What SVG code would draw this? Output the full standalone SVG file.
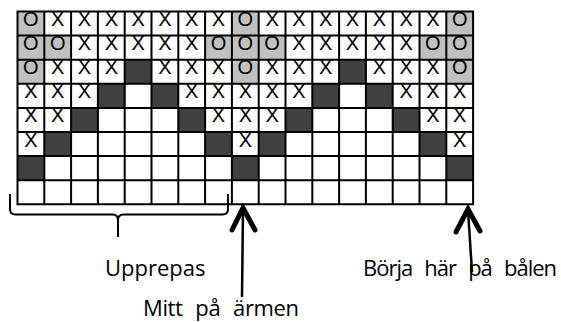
<svg xmlns="http://www.w3.org/2000/svg" width="561" height="322" viewBox="0 0 561 322">
<style>
.g{fill:#c0c0c0}
.d{fill:#404040}
.c{font-family:"Liberation Sans",Arial,sans-serif;font-size:20px;text-anchor:middle;fill:#000}
.lbl{font-family:"Open Sans","DejaVu Sans",sans-serif;font-size:22px;fill:#000}
.gl{fill:none;stroke:#000;stroke-width:2}
.stem{fill:none;stroke:#000;stroke-width:2.5}
.head{fill:none;stroke:#000;stroke-width:5;stroke-linejoin:miter;stroke-linecap:round}
</style>
<rect width="561" height="322" fill="#fff"/>
<g id="grid">
<rect x="17.5" y="11.5" width="455.6" height="192.8" fill="#fff"/>
<g id="grey-cells">
<rect class="g" x="17.5" y="11.5" width="26.8" height="24.1"/>
<rect class="g" x="231.9" y="11.5" width="26.8" height="24.1"/>
<rect class="g" x="446.3" y="11.5" width="26.8" height="24.1"/>
<rect class="g" x="17.5" y="35.6" width="26.8" height="24.1"/>
<rect class="g" x="44.3" y="35.6" width="26.8" height="24.1"/>
<rect class="g" x="205.1" y="35.6" width="26.8" height="24.1"/>
<rect class="g" x="231.9" y="35.6" width="26.8" height="24.1"/>
<rect class="g" x="258.7" y="35.6" width="26.8" height="24.1"/>
<rect class="g" x="419.5" y="35.6" width="26.8" height="24.1"/>
<rect class="g" x="446.3" y="35.6" width="26.8" height="24.1"/>
<rect class="g" x="17.5" y="59.7" width="26.8" height="24.1"/>
<rect class="g" x="231.9" y="59.7" width="26.8" height="24.1"/>
<rect class="g" x="446.3" y="59.7" width="26.8" height="24.1"/>
</g>
<g id="dark-cells">
<rect class="d" x="124.7" y="59.7" width="26.8" height="24.1"/>
<rect class="d" x="339.1" y="59.7" width="26.8" height="24.1"/>
<rect class="d" x="97.9" y="83.8" width="26.8" height="24.1"/>
<rect class="d" x="151.5" y="83.8" width="26.8" height="24.1"/>
<rect class="d" x="312.3" y="83.8" width="26.8" height="24.1"/>
<rect class="d" x="365.9" y="83.8" width="26.8" height="24.1"/>
<rect class="d" x="71.1" y="107.9" width="26.8" height="24.1"/>
<rect class="d" x="178.3" y="107.9" width="26.8" height="24.1"/>
<rect class="d" x="285.5" y="107.9" width="26.8" height="24.1"/>
<rect class="d" x="392.7" y="107.9" width="26.8" height="24.1"/>
<rect class="d" x="44.3" y="132" width="26.8" height="24.1"/>
<rect class="d" x="205.1" y="132" width="26.8" height="24.1"/>
<rect class="d" x="258.7" y="132" width="26.8" height="24.1"/>
<rect class="d" x="419.5" y="132" width="26.8" height="24.1"/>
<rect class="d" x="17.5" y="156.1" width="26.8" height="24.1"/>
<rect class="d" x="231.9" y="156.1" width="26.8" height="24.1"/>
<rect class="d" x="446.3" y="156.1" width="26.8" height="24.1"/>
</g>
<g id="cell-text">
<text class="c" x="30.9" y="26">O</text>
<text class="c" x="57.7" y="26">X</text>
<text class="c" x="84.5" y="26">X</text>
<text class="c" x="111.3" y="26">X</text>
<text class="c" x="138.1" y="26">X</text>
<text class="c" x="164.9" y="26">X</text>
<text class="c" x="191.7" y="26">X</text>
<text class="c" x="218.5" y="26">X</text>
<text class="c" x="245.3" y="26">O</text>
<text class="c" x="272.1" y="26">X</text>
<text class="c" x="298.9" y="26">X</text>
<text class="c" x="325.7" y="26">X</text>
<text class="c" x="352.5" y="26">X</text>
<text class="c" x="379.3" y="26">X</text>
<text class="c" x="406.1" y="26">X</text>
<text class="c" x="432.9" y="26">X</text>
<text class="c" x="459.7" y="26">O</text>

<text class="c" x="30.9" y="50.1">O</text>
<text class="c" x="57.7" y="50.1">O</text>
<text class="c" x="84.5" y="50.1">X</text>
<text class="c" x="111.3" y="50.1">X</text>
<text class="c" x="138.1" y="50.1">X</text>
<text class="c" x="164.9" y="50.1">X</text>
<text class="c" x="191.7" y="50.1">X</text>
<text class="c" x="218.5" y="50.1">O</text>
<text class="c" x="245.3" y="50.1">O</text>
<text class="c" x="272.1" y="50.1">O</text>
<text class="c" x="298.9" y="50.1">X</text>
<text class="c" x="325.7" y="50.1">X</text>
<text class="c" x="352.5" y="50.1">X</text>
<text class="c" x="379.3" y="50.1">X</text>
<text class="c" x="406.1" y="50.1">X</text>
<text class="c" x="432.9" y="50.1">O</text>
<text class="c" x="459.7" y="50.1">O</text>

<text class="c" x="30.9" y="74.2">O</text>
<text class="c" x="57.7" y="74.2">X</text>
<text class="c" x="84.5" y="74.2">X</text>
<text class="c" x="111.3" y="74.2">X</text>
<text class="c" x="164.9" y="74.2">X</text>
<text class="c" x="191.7" y="74.2">X</text>
<text class="c" x="218.5" y="74.2">X</text>
<text class="c" x="245.3" y="74.2">O</text>
<text class="c" x="272.1" y="74.2">X</text>
<text class="c" x="298.9" y="74.2">X</text>
<text class="c" x="325.7" y="74.2">X</text>
<text class="c" x="379.3" y="74.2">X</text>
<text class="c" x="406.1" y="74.2">X</text>
<text class="c" x="432.9" y="74.2">X</text>
<text class="c" x="459.7" y="74.2">O</text>

<text class="c" x="30.9" y="98.3">X</text>
<text class="c" x="57.7" y="98.3">X</text>
<text class="c" x="84.5" y="98.3">X</text>
<text class="c" x="191.7" y="98.3">X</text>
<text class="c" x="218.5" y="98.3">X</text>
<text class="c" x="245.3" y="98.3">X</text>
<text class="c" x="272.1" y="98.3">X</text>
<text class="c" x="298.9" y="98.3">X</text>
<text class="c" x="406.1" y="98.3">X</text>
<text class="c" x="432.9" y="98.3">X</text>
<text class="c" x="459.7" y="98.3">X</text>

<text class="c" x="30.9" y="122.4">X</text>
<text class="c" x="57.7" y="122.4">X</text>
<text class="c" x="218.5" y="122.4">X</text>
<text class="c" x="245.3" y="122.4">X</text>
<text class="c" x="272.1" y="122.4">X</text>
<text class="c" x="432.9" y="122.4">X</text>
<text class="c" x="459.7" y="122.4">X</text>

<text class="c" x="30.9" y="146.5">X</text>
<text class="c" x="245.3" y="146.5">X</text>
<text class="c" x="459.7" y="146.5">X</text>
</g>
<path class="gl" d="M17.5,11.5V204.3M44.3,11.5V204.3M71.1,11.5V204.3M97.9,11.5V204.3M124.7,11.5V204.3M151.5,11.5V204.3M178.3,11.5V204.3M205.1,11.5V204.3M231.9,11.5V204.3M258.7,11.5V204.3M285.5,11.5V204.3M312.3,11.5V204.3M339.1,11.5V204.3M365.9,11.5V204.3M392.7,11.5V204.3M419.5,11.5V204.3M446.3,11.5V204.3M473.1,11.5V204.3M16.5,11.5H474.1M16.5,35.6H474.1M16.5,59.7H474.1M16.5,83.8H474.1M16.5,107.9H474.1M16.5,132H474.1M16.5,156.1H474.1M16.5,180.2H474.1M16.5,204.3H474.1"/>
</g>
<g id="brace">
<path class="gl" d="M10,194V209Q10,214.5 15.5,214.5H112.5Q118,214.5 118,220V237M118,220Q118,214.5 123.5,214.5H222.5Q228,214.5 228,209V194"/>
</g>
<g id="connectors">
<g id="arrow-mitt">
<path class="stem" d="M243,209L242,297"/>
<path class="head" d="M232,230L243,208L255,230"/>
</g>
<g id="arrow-borja">
<path class="stem" d="M468,210L472,272"/>
<path class="head" d="M456,232L468,209L480,231"/>
</g>
</g>
<g id="label-upprepas"><text class="lbl" x="105" y="276">Upprepas</text></g>
<g id="label-mitt"><text class="lbl" x="143" y="316" textLength="156" lengthAdjust="spacing">Mitt&#xF020;på&#xF020;ärmen</text></g>
<g id="label-borja"><text class="lbl" x="363" y="276" textLength="194" lengthAdjust="spacing">Börja&#xF020;här&#xF020;på&#xF020;bålen</text></g>
</svg>
